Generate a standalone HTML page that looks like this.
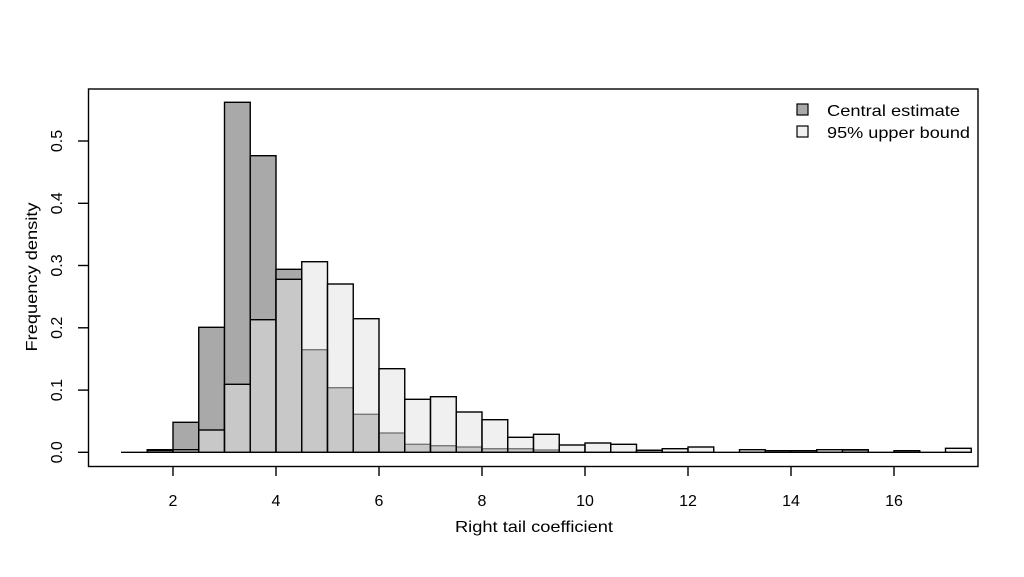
<!DOCTYPE html>
<html><head><meta charset="utf-8"><style>
html,body{margin:0;padding:0;background:#fff;}
svg{display:block;font-family:"Liberation Sans",Arial,sans-serif;}
</style></head><body>
<svg width="1024" height="577" viewBox="0 0 1024 577" xmlns="http://www.w3.org/2000/svg">
<rect width="1024" height="577" fill="#fff"/>
<g stroke="#000" stroke-width="1.4" fill="#a9a9a9">
<line x1="121" y1="452.3" x2="971.25" y2="452.3"/>
<rect x="147.25" y="449.7" width="25.75" height="2.6"/>
<rect x="173" y="422.3" width="25.75" height="30"/>
<rect x="198.75" y="327.3" width="25.75" height="125"/>
<rect x="224.5" y="102.3" width="25.75" height="350"/>
<rect x="250.25" y="155.7" width="25.75" height="296.6"/>
<rect x="276" y="269.3" width="25.75" height="183"/>
<rect x="301.75" y="349.7" width="25.75" height="102.6"/>
<rect x="327.5" y="387.7" width="25.75" height="64.6"/>
<rect x="353.25" y="414.3" width="25.75" height="38"/>
<rect x="379" y="433" width="25.75" height="19.3"/>
<rect x="404.75" y="444.3" width="25.75" height="8"/>
<rect x="430.5" y="445.7" width="25.75" height="6.6"/>
<rect x="456.25" y="447" width="25.75" height="5.3"/>
<rect x="482" y="448.7" width="25.75" height="3.6"/>
<rect x="507.75" y="448.7" width="25.75" height="3.6"/>
<rect x="533.5" y="450" width="25.75" height="2.3"/>
<rect x="636.5" y="450.3" width="25.75" height="2"/>
<rect x="842.5" y="450.3" width="25.75" height="2"/>
</g>
<g stroke="#000" stroke-width="1.4" fill="rgb(227,227,227)" fill-opacity="0.535">
<rect x="147.25" y="450.5" width="25.75" height="1.8"/>
<rect x="173" y="449.7" width="25.75" height="2.6"/>
<rect x="198.75" y="430" width="25.75" height="22.3"/>
<rect x="224.5" y="384.3" width="25.75" height="68"/>
<rect x="250.25" y="319.7" width="25.75" height="132.6"/>
<rect x="276" y="279.3" width="25.75" height="173"/>
<rect x="301.75" y="261.7" width="25.75" height="190.6"/>
<rect x="327.5" y="284" width="25.75" height="168.3"/>
<rect x="353.25" y="318.7" width="25.75" height="133.6"/>
<rect x="379" y="368.7" width="25.75" height="83.6"/>
<rect x="404.75" y="399.3" width="25.75" height="53"/>
<rect x="430.5" y="396.7" width="25.75" height="55.6"/>
<rect x="456.25" y="412" width="25.75" height="40.3"/>
<rect x="482" y="419.7" width="25.75" height="32.6"/>
<rect x="507.75" y="437.3" width="25.75" height="15"/>
<rect x="533.5" y="434.3" width="25.75" height="18"/>
<rect x="559.25" y="445" width="25.75" height="7.3"/>
<rect x="585" y="443" width="25.75" height="9.3"/>
<rect x="610.75" y="444.3" width="25.75" height="8"/>
<rect x="636.5" y="450.3" width="25.75" height="2"/>
<rect x="662.25" y="448.7" width="25.75" height="3.6"/>
<rect x="688" y="447" width="25.75" height="5.3"/>
<rect x="739.5" y="449.7" width="25.75" height="2.6"/>
<rect x="765.25" y="450.7" width="25.75" height="1.6"/>
<rect x="791" y="450.7" width="25.75" height="1.6"/>
<rect x="816.75" y="449.7" width="25.75" height="2.6"/>
<rect x="842.5" y="449.7" width="25.75" height="2.6"/>
<rect x="894" y="450.7" width="25.75" height="1.6"/>
<rect x="945.5" y="448.3" width="25.75" height="4"/>
</g>
<rect x="88.5" y="89" width="889.5" height="377.5" fill="none" stroke="#000" stroke-width="1.4"/>
<g stroke="#000" stroke-width="1.4">
<line x1="173" y1="466.5" x2="173" y2="476"/>
<line x1="276" y1="466.5" x2="276" y2="476"/>
<line x1="379" y1="466.5" x2="379" y2="476"/>
<line x1="482" y1="466.5" x2="482" y2="476"/>
<line x1="585" y1="466.5" x2="585" y2="476"/>
<line x1="688" y1="466.5" x2="688" y2="476"/>
<line x1="791" y1="466.5" x2="791" y2="476"/>
<line x1="894" y1="466.5" x2="894" y2="476"/>
<line x1="88.5" y1="452.3" x2="78" y2="452.3"/>
<line x1="88.5" y1="390.1" x2="78" y2="390.1"/>
<line x1="88.5" y1="327.8" x2="78" y2="327.8"/>
<line x1="88.5" y1="265.5" x2="78" y2="265.5"/>
<line x1="88.5" y1="203.3" x2="78" y2="203.3"/>
<line x1="88.5" y1="141" x2="78" y2="141"/>
</g>
<g font-size="16" text-anchor="middle" fill="#000">
<text x="173" y="506">2</text>
<text x="276" y="506">4</text>
<text x="379" y="506">6</text>
<text x="482" y="506">8</text>
<text x="585" y="506">10</text>
<text x="688" y="506">12</text>
<text x="791" y="506">14</text>
<text x="894" y="506">16</text>
<text x="534" y="532" textLength="158" lengthAdjust="spacingAndGlyphs">Right tail coefficient</text>
<text transform="translate(62,452.3) rotate(-90)">0.0</text>
<text transform="translate(62,390.1) rotate(-90)">0.1</text>
<text transform="translate(62,327.8) rotate(-90)">0.2</text>
<text transform="translate(62,265.5) rotate(-90)">0.3</text>
<text transform="translate(62,203.3) rotate(-90)">0.4</text>
<text transform="translate(62,141) rotate(-90)">0.5</text>
<text transform="translate(37,277) rotate(-90)" textLength="149" lengthAdjust="spacingAndGlyphs">Frequency density</text>
</g>
<rect x="797" y="104" width="11" height="11" fill="#a9a9a9" stroke="#000" stroke-width="1.2"/>
<rect x="797" y="126" width="11" height="11" fill="#f0f0f0" stroke="#000" stroke-width="1.2"/>
<g font-size="16" fill="#000">
<text x="827" y="116" textLength="133" lengthAdjust="spacingAndGlyphs">Central estimate</text>
<text x="827" y="138" textLength="143" lengthAdjust="spacingAndGlyphs">95% upper bound</text>
</g>
</svg>
</body></html>
